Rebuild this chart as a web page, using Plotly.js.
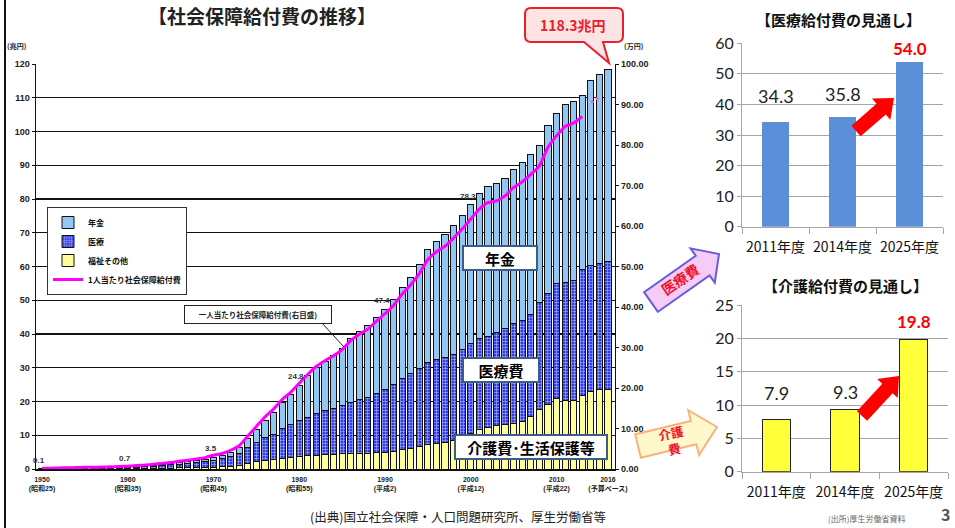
<!DOCTYPE html>
<html><head><meta charset="utf-8">
<script src="https://cdn.plot.ly/plotly-3.0.1.min.js"></script>
<style>html,body{margin:0;padding:0;background:#fff}#chart{width:955px;height:528px}</style>
</head><body><div id="chart"></div>
<script>
// ---------------- DATA ----------------
const years = [1950,1951,1952,1953,1954,1955,1956,1957,1958,1959,
  1960,1961,1962,1963,1964,1965,1966,1967,1968,1969,
  1970,1971,1972,1973,1974,1975,1976,1977,1978,1979,
  1980,1981,1982,1983,1984,1985,1986,1987,1988,1989,
  1990,1991,1992,1993,1994,1995,1996,1997,1998,1999,
  2000,2001,2002,2003,2004,2005,2006,2007,2008,2009,
  2010,2011,2012,2013,2014,2015,2016];
// 福祉その他 (兆円)
const welfare = [0.06,0.07,0.09,0.10,0.11,0.12,0.12,0.13,0.14,0.15,
  0.16,0.18,0.20,0.22,0.25,0.28,0.32,0.37,0.43,0.50,
  0.59,0.68,0.89,1.13,1.65,2.18,2.47,2.77,3.11,3.31,
  3.60,3.86,4.06,4.3,4.4,4.5,4.6,4.6,4.7,4.8,
  4.9,5.2,5.7,6.2,6.6,7.4,7.7,7.9,8.3,8.8,
  10.6,11.6,12.4,13.0,13.3,13.5,14.0,15.5,17.5,19.0,
  20.9,20.4,20.4,21.9,22.9,23.6,23.6];
// 医療 (兆円)
const medical = [0.06,0.08,0.11,0.13,0.15,0.18,0.19,0.20,0.23,0.26,
  0.29,0.38,0.47,0.61,0.76,0.91,1.07,1.24,1.45,1.65,
  2.06,2.29,2.86,3.43,4.84,5.71,6.82,7.59,8.97,9.77,
  10.70,11.48,12.36,13.1,13.6,14.3,15.1,16.0,16.6,17.6,
  18.6,19.8,21.0,22.1,23.2,24.1,24.8,25.2,25.5,26.5,
  26.6,27.1,26.8,27.4,28.4,29.5,29.9,30.4,31.8,33.0,
  34.1,34.8,35.6,37.1,37.5,37.3,37.8];
// 年金 (兆円)
const pension = [0.01,0.01,0.02,0.03,0.04,0.09,0.09,0.11,0.13,0.17,
  0.21,0.23,0.25,0.29,0.34,0.41,0.48,0.55,0.63,0.73,
  0.87,1.06,1.23,1.70,2.54,3.88,5.23,6.53,7.70,8.90,
  10.50,12.22,13.68,14.57,15.64,16.88,18.89,20.13,21.11,22.61,
  23.90,25.13,27.13,28.50,30.67,33.48,35.05,36.32,38.34,39.74,
  41.10,42.97,44.64,44.13,44.47,45.85,46.77,47.19,46.54,49.67,
  50.36,52.90,53.00,51.80,54.80,55.90,56.90];
// 1人当たり社会保障給付費 (万円)
const perCapitaYears = years.slice(0, 64);
const perCapita = [0.16,0.19,0.26,0.30,0.34,0.44,0.44,0.48,0.54,0.63,
  0.70,0.84,0.97,1.16,1.39,1.63,1.89,2.16,2.48,2.81,
  3.39,3.83,4.63,5.74,8.16,10.52,12.84,14.79,17.17,18.92,
  21.15,23.38,25.36,26.75,27.96,29.49,31.71,33.30,34.54,36.50,
  38.37,40.39,43.20,45.48,48.26,51.74,53.65,55.01,57.03,59.23,
  61.75,64.16,65.76,66.19,67.43,69.52,70.89,72.73,74.82,79.43,
  82.25,84.59,85.42,87.04];
const perCapitaEstYears = [2014, 2015];
const perCapitaEst = [90.5, 91.8];
// labelled totals
const labelYears = [1950, 1960, 1970, 1980, 1990, 2000];
// x tick labels
const tickYears = [1950, 1960, 1970, 1980, 1990, 2000, 2010, 2016];
const tickEra = ['(昭和25)','(昭和35)','(昭和45)','(昭和55)','(平成2)','(平成12)','(平成22)','(予算ベース)'];
// right-side outlook charts
const fiscalYears = ['2011年度','2014年度','2025年度'];
const medicalOutlook = [34.3, 35.8, 54.0];
const careOutlook = [7.9, 9.3, 19.8];

// ---------------- HELPERS ----------------
const W = 955, H = 528;
const px = x => x / W;
const py = y => 1 - y / H;
const totalOf = yr => { const i = years.indexOf(yr); return welfare[i] + medical[i] + pension[i]; };
function blockArrow(sx, sy, ex, ey, bw, hw, hl) {
  const L = Math.hypot(ex - sx, ey - sy);
  const dx = (ex - sx) / L, dy = (ey - sy) / L, nx = -dy, ny = dx;
  const bx = ex - dx * hl, by = ey - dy * hl;
  const pts = [[sx + nx*bw, sy + ny*bw], [bx + nx*bw, by + ny*bw], [bx + nx*hw, by + ny*hw], [ex, ey],
               [bx - nx*hw, by - ny*hw], [bx - nx*bw, by - ny*bw], [sx - nx*bw, sy - ny*bw]];
  return 'M' + pts.map(p => px(p[0]).toFixed(5) + ',' + py(p[1]).toFixed(5)).join(' L') + ' Z';
}
function P(x, y) { return px(x).toFixed(5) + ',' + py(y).toFixed(5); }

const JP = '"Noto Sans CJK JP", "Noto Sans", sans-serif';
const NARROW = '"Liberation Sans Narrow", "Arial Narrow", "Liberation Sans", "Noto Sans CJK JP", sans-serif';
const NUM = 'Lato, "Noto Sans", sans-serif';

// ---------------- TRACES ----------------
const barLine = {color: '#111', width: 1};
const traces = [
  {type: 'bar', name: '福祉その他', x: years, y: welfare, xaxis: 'x', yaxis: 'y', width: 0.72,
   marker: {color: '#FFFF99', line: barLine}, legendrank: 3},
  {type: 'bar', name: '医療', x: years, y: medical, xaxis: 'x', yaxis: 'y', width: 0.72,
   marker: {color: '#2F3BE6', line: barLine,
            pattern: {shape: '+', bgcolor: '#2F3BE6', fgcolor: '#A9B6FF', size: 3, solidity: 0.35}},
   legendrank: 2},
  {type: 'bar', name: '年金', x: years, y: pension, xaxis: 'x', yaxis: 'y', width: 0.72,
   marker: {color: '#93C6F2', line: barLine}, legendrank: 1},
  {type: 'scatter', mode: 'lines', name: '1人当たり社会保障給付費', x: perCapitaYears, y: perCapita,
   xaxis: 'x', yaxis: 'y2', line: {color: '#FF00FF', width: 3, shape: 'spline', smoothing: 0.6}, legendrank: 4},
  {type: 'scatter', mode: 'lines', name: '1人当たり(予算)', x: perCapitaEstYears, y: perCapitaEst,
   xaxis: 'x', yaxis: 'y2', line: {color: '#F070C0', width: 3, dash: 'dot'}, showlegend: false},
  {type: 'bar', name: '医療給付費', x: fiscalYears, y: medicalOutlook, xaxis: 'x2', yaxis: 'y3',
   width: 0.41, marker: {color: '#5B8FD8'}, showlegend: false},
  {type: 'bar', name: '介護給付費', x: fiscalYears, y: careOutlook, xaxis: 'x3', yaxis: 'y4',
   width: 0.41, marker: {color: '#FFFF3A', line: {color: '#222', width: 1}}, showlegend: false}
];

// ---------------- ANNOTATIONS ----------------
const annotations = [];
const pa = (x, y, text, font, extra) => Object.assign({xref: 'paper', yref: 'paper', x: px(x), y: py(y),
  xanchor: 'center', yanchor: 'middle', text: text, showarrow: false, font: font}, extra || {});
labelYears.forEach(yr => {
  annotations.push({xref: 'x', yref: 'y', x: yr, y: totalOf(yr), text: totalOf(yr).toFixed(1),
    showarrow: false, xanchor: 'center', yanchor: 'bottom', yshift: 2, xshift: -3,
    font: {family: NARROW, size: 8, color: '#333', weight: 'bold'}});
});
annotations.push(pa(17, 46, '(兆円)', {family: JP, size: 7, color: '#222', weight: 'bold'}));
annotations.push(pa(634, 46, '(万円)', {family: JP, size: 7, color: '#222', weight: 'bold'}));
const lastTotal = totalOf(2016);
annotations.push(pa(573, 25, lastTotal.toFixed(1) + '兆円', {family: JP, size: 14, color: '#E8202A', weight: 'bold'}));
const boxFont = {family: JP, size: 15, color: '#000', weight: 'bold'};
const boxExtra = (w, h) => ({width: w, height: h, bgcolor: '#fff', bordercolor: '#3D5C86', borderwidth: 2, borderpad: 0});
annotations.push(pa(500, 258, '年金', boxFont, boxExtra(72, 22)));
annotations.push(pa(501, 370, '医療費', boxFont, boxExtra(74, 22)));
annotations.push(pa(530.5, 446.5, '介護費･生活保護等', boxFont, boxExtra(150, 22)));
annotations.push(pa(258, 314, '一人当たり社会保障給付費(右目盛)', {family: JP, size: 7.5, color: '#222', weight: 'bold'},
  {width: 146, height: 17, bgcolor: '#fff', bordercolor: '#222', borderwidth: 1, borderpad: 0}));
annotations.push(pa(458, 516, '(出典)国立社会保障・人口問題研究所、厚生労働省等', {family: JP, size: 12.5, color: '#222'}));
annotations.push(pa(866, 518, '(出所)厚生労働省資料', {family: JP, size: 8, color: '#666'}));
annotations.push(pa(945, 514, '3', {family: JP, size: 16, color: '#555', weight: 'bold'}));
annotations.push(pa(838, 19, '【医療給付費の見通し】', {family: JP, size: 15, color: '#111', weight: 'bold'}));
annotations.push(pa(845, 285, '【介護給付費の見通し】', {family: JP, size: 15, color: '#111', weight: 'bold'}));
const shift1 = [13, 10, 1], shift2 = [13, 5, 6];
fiscalYears.forEach((c, i) => {
  const last = i === fiscalYears.length - 1;
  const f = {family: NUM, size: last ? 17 : 18, color: last ? '#FF0000' : '#222', weight: last ? 'bold' : 'normal'};
  annotations.push({xref: 'x2', yref: 'y3', x: c, y: medicalOutlook[i], text: medicalOutlook[i].toFixed(1),
    showarrow: false, xanchor: 'center', yanchor: 'bottom', yshift: shift1[i], font: f});
  annotations.push({xref: 'x3', yref: 'y4', x: c, y: careOutlook[i], text: careOutlook[i].toFixed(1),
    showarrow: false, xanchor: 'center', yanchor: 'bottom', yshift: shift2[i], font: f});
});
annotations.push(pa(680, 279, '医療費', {family: JP, size: 14, color: '#F0102A', weight: 'bold'}, {textangle: -34}));
annotations.push(pa(673, 440, '介護<br>費', {family: JP, size: 12.5, color: '#F0102A', weight: 'bold'}, {textangle: -12}));

// ---------------- SHAPES ----------------
const shapes = [
  {type: 'line', xref: 'paper', yref: 'paper', x0: px(5), x1: px(5), y0: 0, y1: 1, line: {color: '#111', width: 2}},
  {type: 'line', xref: 'paper', yref: 'paper', x0: px(322), y0: py(323), x1: px(344), y1: py(347), line: {color: '#222', width: 1}},
  {type: 'path', xref: 'paper', yref: 'paper',
   path: 'M' + P(531, 8) + ' L' + P(617, 8) + ' Q' + P(623, 8) + ' ' + P(623, 14) + ' L' + P(623, 36) +
         ' Q' + P(623, 42) + ' ' + P(617, 42) + ' L' + P(603, 42) + ' L' + P(609, 63) + ' L' + P(584, 42) +
         ' L' + P(531, 42) + ' Q' + P(525, 42) + ' ' + P(525, 36) + ' L' + P(525, 14) + ' Q' + P(525, 8) + ' ' + P(531, 8) + ' Z',
   fillcolor: '#FDE4E4', line: {color: '#E8202A', width: 2}},
  {type: 'path', xref: 'paper', yref: 'paper', path: blockArrow(651, 302, 719, 254, 12, 21, 20),
   fillcolor: '#F6CCF6', line: {color: '#6A5AE0', width: 2}},
  {type: 'path', xref: 'paper', yref: 'paper', path: blockArrow(638, 446, 717, 427, 12, 23, 24),
   fillcolor: '#FFF8CC', line: {color: '#F7B27F', width: 2}},
  {type: 'path', xref: 'paper', yref: 'paper', path: blockArrow(856, 131, 894, 98, 7, 14, 17),
   fillcolor: '#FF0000', line: {width: 0}},
  {type: 'path', xref: 'paper', yref: 'paper', path: blockArrow(862, 416, 899, 376, 7, 14, 17),
   fillcolor: '#FF0000', line: {width: 0}}
];

// ---------------- LAYOUT ----------------
const layout = {
  width: W, height: H, margin: {l: 0, r: 0, t: 0, b: 0},
  paper_bgcolor: '#fff', plot_bgcolor: 'rgba(0,0,0,0)',
  barmode: 'stack',
  title: {text: '【社会保障給付費の推移】', x: px(262), xanchor: 'center', y: py(17), yanchor: 'middle',
          font: {family: JP, size: 19, color: '#222', weight: 'bold'}},
  showlegend: true,
  legend: {x: px(47), y: py(207), xanchor: 'left', yanchor: 'top', traceorder: 'normal',
           bgcolor: '#fff', bordercolor: '#333', borderwidth: 1, tracegroupgap: 0, itemwidth: 30,
           font: {family: JP, size: 8, color: '#111', weight: 'bold'}},
  xaxis: {domain: [px(36), px(615)], anchor: 'y', range: [1949.3, 2016.82], showgrid: false, zeroline: false,
          showline: true, linecolor: '#111', linewidth: 1.5, ticks: '',
          tickmode: 'array', tickvals: tickYears, ticktext: tickYears.map((y, i) => y + '<br>' + tickEra[i]),
          tickfont: {family: NARROW, size: 7, color: '#222', weight: 'bold'}, ticklabelstandoff: 3},
  yaxis: {domain: [py(469), py(64)], anchor: 'x', range: [0, 120], dtick: 10, showgrid: true, gridcolor: '#111',
          gridwidth: 1.2, zeroline: false, showline: true, linecolor: '#111', linewidth: 1.5,
          ticks: 'outside', ticklen: 3, tickcolor: '#111',
          tickfont: {family: NARROW, size: 9, color: '#222', weight: 'bold'}},
  yaxis2: {overlaying: 'y', side: 'right', anchor: 'x', range: [0, 100], dtick: 10, tickformat: '.2f',
           showgrid: false, zeroline: false, showline: true, linecolor: '#111', linewidth: 1.2,
           ticks: 'outside', ticklen: 3, tickcolor: '#111',
           tickfont: {family: NARROW, size: 9, color: '#222', weight: 'bold'}},
  xaxis2: {domain: [px(742), px(943)], anchor: 'y3', type: 'category', showline: true, linecolor: '#A6A6A6',
           ticks: 'outside', tickson: 'boundaries', ticklen: 6, tickcolor: '#A6A6A6', showgrid: false,
           tickangle: 0, ticklabelstandoff: 7, tickfont: {family: JP, size: 14, color: '#111'}},
  yaxis3: {domain: [py(226.7), py(43.3)], anchor: 'x2', range: [0, 60], dtick: 10, gridcolor: '#A6A6A6',
           showline: true, linecolor: '#A6A6A6', zeroline: false, ticks: 'outside', ticklen: 4, tickcolor: '#A6A6A6',
           tickfont: {family: NUM, size: 16, color: '#222'}},
  xaxis3: {domain: [px(742), px(948)], anchor: 'y4', type: 'category', showline: true, linecolor: '#A6A6A6',
           ticks: 'outside', tickson: 'boundaries', ticklen: 6, tickcolor: '#A6A6A6', showgrid: false,
           tickangle: 0, ticklabelstandoff: 7, tickfont: {family: JP, size: 14, color: '#111'}},
  yaxis4: {domain: [py(471.7), py(305)], anchor: 'x3', range: [0, 25], dtick: 5, gridcolor: '#A6A6A6',
           showline: true, linecolor: '#A6A6A6', zeroline: false, ticks: 'outside', ticklen: 4, tickcolor: '#A6A6A6',
           tickfont: {family: NUM, size: 16, color: '#222'}},
  annotations: annotations,
  shapes: shapes
};

Plotly.newPlot('chart', traces, layout, {displayModeBar: false, staticPlot: true});
</script>
</body></html>
